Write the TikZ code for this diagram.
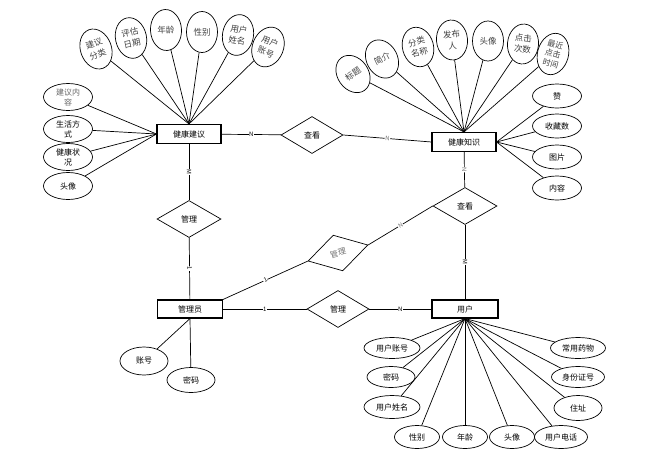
\documentclass[tikz,border=0pt]{standalone}
\usepackage{fontspec}
\setmainfont{Noto Sans CJK SC}
\usepackage{tikz}
\usetikzlibrary{shapes.geometric, positioning}

\begin{document}
\begin{tikzpicture}[
  x=1pt, y=-1pt,
  line width=0.7pt,
  entity/.style={rectangle, draw, line width=1.1pt, minimum width=64pt,
                 minimum height=19pt, inner sep=0pt, font=\fontsize{8}{9}\selectfont},
  rel/.style={diamond, draw, minimum width=62pt, minimum height=37pt,
              inner sep=0pt, font=\fontsize{8}{9}\selectfont},
  tallattr/.style={ellipse, draw, minimum width=31pt, minimum height=41pt,
                   inner sep=0pt, align=center, text=black!75,
                   font=\fontsize{8.5}{11}\selectfont},
  wideattr/.style={ellipse, draw, minimum width=49pt, minimum height=26pt,
                   inner sep=0pt, align=center, font=\fontsize{8}{10}\selectfont},
  card/.style={fill=white, inner sep=0.5pt, font=\fontsize{6}{6}\selectfont},
]
  \useasboundingbox (0,0) rectangle (661,464);

  % entities
  \node[entity] (advice) at (189,134) {健康建议};
  \node[entity] (know)   at (464,142) {健康知识};
  \node[entity, minimum width=65pt, minimum height=18pt] (admin) at (190,309) {管理员};
  \node[entity, minimum width=66pt, minimum height=18pt] (user)  at (465,309) {用户};

  % relations
  \node[rel] (see1) at (312,135) {查看};
  \node[rel, minimum width=64pt] (mng1) at (189,219) {管理};
  \node[rel, minimum width=64pt] (see2) at (465,206) {查看};
  \node[rel, rotate=15, text=black!55] (mng2) at (338,253) {管理};
  \node[rel] (mng3) at (338,309) {管理};

  % attributes of 健康建议
  \node[tallattr, rotate=20]  (sortA) at (96,49)  {建议\\分类};
  \node[tallattr, rotate=12]  (dateA) at (131,38) {评估\\日期};
  \node[tallattr, rotate=3]   (ageA)  at (166,30) {年龄};
  \node[tallattr]             (sexA)  at (202,32) {性别};
  \node[tallattr, rotate=-10] (nameA) at (238,35) {用户\\姓名};
  \node[tallattr, rotate=-22] (accA)  at (268,47) {用户\\账号};
  \node[wideattr, minimum height=27pt, text=black!60] (textA) at (68,97)  {建议内\\容};
  \node[wideattr, minimum height=27pt] (lifeA)  at (68,129) {生活方\\式};
  \node[wideattr, minimum height=27pt] (stateA) at (68,157) {健康状\\况};
  \node[wideattr, minimum height=27pt] (headA)  at (68,186) {头像};

  % attributes of 健康知识
  \node[tallattr, rotate=35, minimum height=40pt]  (titleK) at (353,74) {标题};
  \node[tallattr, rotate=28, minimum height=40pt]  (introK) at (382,59) {简介};
  \node[tallattr, rotate=15, minimum height=40pt]  (sortK)  at (418,47) {分类\\名称};
  \node[tallattr, rotate=5, minimum height=40pt]   (authK)  at (452,40) {发布\\人};
  \node[tallattr, minimum height=40pt]             (headK)  at (488,41) {头像};
  \node[tallattr, rotate=-5, minimum height=40pt]  (clickK) at (523,44) {点击\\次数};
  \node[tallattr, rotate=-15, minimum height=42pt,
        font=\fontsize{8}{9.5}\selectfont]         (lastK)  at (553,54) {最近\\点击\\时间};
  \node[wideattr, minimum height=24pt] (likeK) at (557,96)  {赞};
  \node[wideattr, minimum height=24pt] (favK)  at (557,126) {收藏数};
  \node[wideattr, minimum height=24pt] (picK)  at (557,157) {图片};
  \node[wideattr, minimum height=24pt] (bodyK) at (557,188) {内容};

  % attributes of 管理员
  \node[wideattr, minimum width=48pt, minimum height=28pt] (accM) at (144,361) {账号};
  \node[wideattr, minimum width=48pt, minimum height=25pt] (pwdM) at (191,380) {密码};

  % attributes of 用户
  \node[wideattr, minimum width=56pt, minimum height=21pt] (accU)   at (392,348) {用户账号};
  \node[wideattr, minimum width=48pt, minimum height=21pt] (pwdU)   at (391,377) {密码};
  \node[wideattr, minimum width=56pt, minimum height=23pt] (nameU)  at (392,407) {用户姓名};
  \node[wideattr, minimum width=45pt, minimum height=23pt] (sexU)   at (417,437) {性别};
  \node[wideattr, minimum width=45pt, minimum height=23pt] (ageU)   at (465,437) {年龄};
  \node[wideattr, minimum width=45pt, minimum height=23pt] (headU)  at (512,437) {头像};
  \node[wideattr, minimum width=53pt, minimum height=23pt] (telU)   at (561,437) {用户电话};
  \node[wideattr, minimum width=55pt, minimum height=21pt] (drugU)  at (578,348) {常用药物};
  \node[wideattr, minimum width=53pt, minimum height=21pt] (idU)    at (578,377) {身份证号};
  \node[wideattr, minimum width=48pt, minimum height=25pt] (addrU)  at (578,408) {住址};

  % relationship lines
  \draw (advice) -- node[card] {N} (see1);
  \draw (see1.east) -- node[card, sloped, text=black!55] {N} (know.west);
  \draw (advice) -- node[card, sloped] {M} (mng1);
  \draw (mng1) -- node[card, sloped] {1} (admin);
  \draw (know) -- node[card, sloped, text=black!55] {N} (see2);
  \draw (see2) -- node[card, sloped] {M} (user);
  \draw (admin.north east) -- node[card, sloped] {1} (mng2.west);
  \draw (mng2.east) -- node[card, sloped, text=black!55] {N} (see2.west);
  \draw (admin) -- node[card] {1} (mng3);
  \draw (mng3) -- node[card] {N} (user);

  % attribute lines
  \draw (sortA) -- (advice.north);
  \draw (dateA) -- (advice.north);
  \draw (ageA)  -- (advice.north);
  \draw (sexA)  -- (advice.north);
  \draw (nameA) -- (advice.north);
  \draw (accA)  -- (advice.north);
  \draw (textA)  -- (advice.west);
  \draw (lifeA)  -- (advice.west);
  \draw (stateA) -- (advice.west);
  \draw (headA)  -- (advice.west);

  \draw (titleK) -- (know.north);
  \draw (introK) -- (know.north);
  \draw (sortK)  -- (know.north);
  \draw (authK)  -- (know.north);
  \draw (headK)  -- (know.north);
  \draw (clickK) -- (know.north);
  \draw (lastK)  -- (know.north);
  \draw (likeK) -- (know.east);
  \draw (favK)  -- (know.east);
  \draw (picK)  -- (know.east);
  \draw (bodyK) -- (know.east);

  \draw (accM) -- (admin.south);
  \draw (pwdM) -- (admin.south);

  \draw (accU)  -- (user.south);
  \draw (pwdU)  -- (user.south);
  \draw (nameU) -- (user.south);
  \draw (sexU)  -- (user.south);
  \draw (ageU)  -- (user.south);
  \draw (headU) -- (user.south);
  \draw (telU)  -- (user.south);
  \draw (drugU) -- (user.south);
  \draw (idU)   -- (user.south);
  \draw (addrU) -- (user.south);
\end{tikzpicture}
\end{document}
